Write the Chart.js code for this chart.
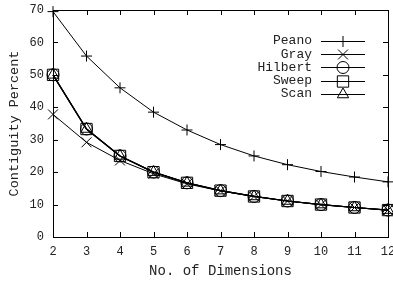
<!DOCTYPE html>
<html lang="en">
<head>
<meta charset="UTF-8">
<title>Contiguity Percent</title>
<script src="https://cdn.jsdelivr.net/npm/chart.js"></script>
<style>
  html, body { margin: 0; padding: 0; background: #fff; }
  #wrap { width: 393px; height: 286px; }
</style>
</head>
<body>
<div id="wrap"><canvas id="chart"></canvas></div>
<script>
  // data
  const dimensions = [2, 3, 4, 5, 6, 7, 8, 9, 10, 11, 12];
  const peano   = [69.5, 55.8, 46.0, 38.5, 33.0, 28.5, 25.0, 22.3, 20.2, 18.5, 17.0];
  const gray    = [37.8, 29.2, 23.6, 19.5, 16.4, 14.2, 12.5, 11.1, 10.0, 9.1, 8.3];
  const hilbert = [50.0, 33.3, 25.0, 20.0, 16.7, 14.3, 12.5, 11.1, 10.0, 9.1, 8.3];
  const sweep   = [50.0, 33.3, 25.0, 20.0, 16.7, 14.3, 12.5, 11.1, 10.0, 9.1, 8.3];
  const scan    = [50.0, 33.3, 25.0, 20.0, 16.7, 14.3, 12.5, 11.1, 10.0, 9.1, 8.3];
  const seriesNames = ['Peano', 'Gray', 'Hilbert', 'Sweep', 'Scan'];
  const markers = ['cross', 'crossRot', 'circle', 'rect', 'triangle'];
  const markerSizes = [5.5, 7, 6, 8, 6.5];
  const yTicks = [0, 10, 20, 30, 40, 50, 60, 70];

  const FONT = "'Liberation Mono', 'DejaVu Sans Mono', monospace";
  const INK = '#000';

  // big markers at the ends would otherwise shrink the plot area
  Chart.controllers.line.prototype.getMaxOverflow = function() { return 0; };

  function pts(vals) {
    return vals.map((v, i) => ({ x: dimensions[i], y: v }));
  }

  const allSeries = [peano, gray, hilbert, sweep, scan];
  const datasets = allSeries.map((vals, i) => ({
    label: seriesNames[i],
    data: pts(vals),
    borderColor: INK,
    borderWidth: i >= 2 ? 1.2 : 1,
    pointStyle: markers[i],
    pointRadius: markerSizes[i],
    pointBorderWidth: 1,
    pointBorderColor: INK,
    pointBackgroundColor: 'rgba(0,0,0,0)',
    fill: false,
    clip: false,
    tension: 0
  }));

  // frame, inward ticks on all four sides, and the gnuplot style key
  const framePlugin = {
    id: 'frame',
    afterDraw(chart) {
      const ctx = chart.ctx;
      const a = chart.chartArea;
      const xs = chart.scales.x, ys = chart.scales.y;
      ctx.save();
      ctx.strokeStyle = INK;
      ctx.lineWidth = 1;
      ctx.strokeRect(Math.round(a.left) + 0.5, Math.round(a.top) + 0.5,
                     Math.round(a.right - a.left), Math.round(a.bottom - a.top));
      ctx.beginPath();
      dimensions.forEach(d => {
        const px = Math.round(xs.getPixelForValue(d)) + 0.5;
        ctx.moveTo(px, a.bottom); ctx.lineTo(px, a.bottom - 5);
        ctx.moveTo(px, a.top); ctx.lineTo(px, a.top + 5);
      });
      yTicks.forEach(t => {
        const py = Math.round(ys.getPixelForValue(t)) + 0.5;
        ctx.moveTo(a.left, py); ctx.lineTo(a.left + 5, py);
        ctx.moveTo(a.right, py); ctx.lineTo(a.right - 5, py);
      });
      ctx.stroke();

      // key
      ctx.font = '13px ' + FONT;
      ctx.textAlign = 'right';
      ctx.textBaseline = 'middle';
      chart.data.datasets.forEach((ds, i) => {
        const y = 41 + i * 13.2;
        ctx.fillStyle = '#222';
        ctx.fillText(ds.label, 312, y);
        ctx.beginPath();
        ctx.moveTo(321, Math.round(y) + 0.5);
        ctx.lineTo(365, Math.round(y) + 0.5);
        ctx.stroke();
        ctx.fillStyle = 'rgba(0,0,0,0)';
        Chart.helpers.drawPoint(ctx, {
          pointStyle: ds.pointStyle, radius: ds.pointRadius, borderWidth: 1, rotation: 0
        }, 343, Math.round(y) + 0.5);
      });
      ctx.restore();
    }
  };

  new Chart(document.getElementById('chart'), {
    type: 'line',
    data: { datasets: datasets },
    options: {
      responsive: true,
      maintainAspectRatio: false,
      animation: false,
      layout: { padding: { top: 10, right: 5, bottom: 0, left: 0 } },
      plugins: { legend: { display: false }, tooltip: { enabled: false } },
      scales: {
        x: {
          type: 'linear',
          min: 2, max: 12,
          grid: { display: false, drawTicks: false },
          border: { display: false },
          ticks: { stepSize: 1, padding: 8, color: '#222', font: { family: FONT, size: 12 }, maxRotation: 0 },
          title: { display: true, text: 'No. of Dimensions', color: '#222',
                   font: { family: FONT, size: 14 }, padding: { top: 4, bottom: 6 } },
          afterFit(scale) {
            scale.height = 49;
            scale.paddingLeft = 0;
            scale.paddingRight = 0;
          }
        },
        y: {
          min: 0, max: 70,
          grid: { display: false, drawTicks: false },
          border: { display: false },
          ticks: { stepSize: 10, padding: 9, color: '#222', font: { family: FONT, size: 12 } },
          title: { display: true, text: 'Contiguity Percent', color: '#222',
                   font: { family: FONT, size: 13.5 }, padding: { top: 6, bottom: 0 } },
          afterFit(scale) {
            scale.width = 53;
            scale.paddingTop = 0;
            scale.paddingBottom = 0;
          }
        }
      }
    },
    plugins: [framePlugin]
  });
</script>
</body>
</html>
